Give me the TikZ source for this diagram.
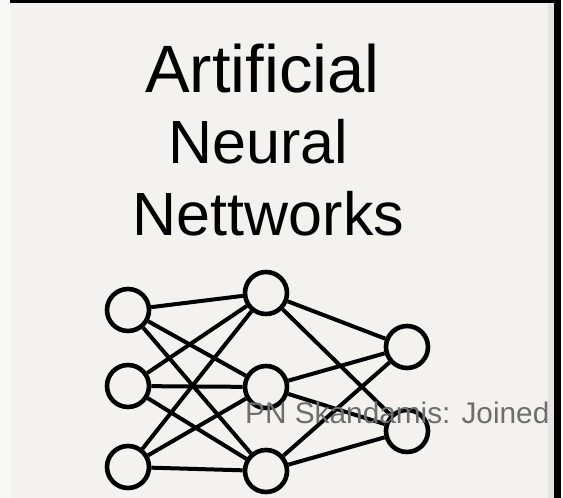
\documentclass[tikz,border=0pt]{standalone}
\usepackage{fontspec}
\setmainfont{Liberation Sans}
\definecolor{bgpaper}{HTML}{F4F2EE}
\definecolor{leftstrip}{HTML}{F8F8F6}
\definecolor{edgegray}{HTML}{E6E5E1}
\definecolor{wmgray}{HTML}{6E6E6E}
\begin{document}
\begin{tikzpicture}[x=1pt,y=-1pt,
  neuron/.style={draw=black,line width=4.6pt,circle,minimum size=42pt,inner sep=0pt,fill=bgpaper},
  link/.style={draw=black,line width=4pt},
  titletext/.style={anchor=base,inner sep=0pt,text=black}]
\useasboundingbox (0,0) rectangle (563,498);
\fill[leftstrip] (0,0) rectangle (563,498);
\fill[bgpaper] (10,3) rectangle (551,498);
\fill[edgegray] (548,3) rectangle (554,498);
% title
\node[titletext,font=\fontsize{67}{70}\selectfont] (t1) at (262.5,92) {Artificial};
\node[titletext,font=\fontsize{61}{70}\selectfont] (t2) at (258,163) {Neural};
\node[titletext,font=\fontsize{61}{70}\selectfont] (t3) at (268.5,235) {Nettworks};
% links
\node[neuron] (i1) at (128,310) {};
\node[neuron] (i2) at (128,386) {};
\node[neuron] (i3) at (128,467) {};
\node[neuron] (h1) at (266,293) {};
\node[neuron] (h2) at (266,387) {};
\node[neuron] (h3) at (266,471) {};
\node[neuron] (o1) at (407,347) {};
\node[neuron] (o2) at (407,431) {};
\foreach \a in {i1,i2,i3}{\foreach \b in {h1,h2,h3}{\draw[link] (\a) -- (\b);}}
\foreach \a in {h1,h2,h3}{\foreach \b in {o1,o2}{\draw[link] (\a) -- (\b);}}
% watermark
\begin{scope}
\clip (0,0) rectangle (553,498);
\node[anchor=base west,inner sep=0pt,text=wmgray,font=\fontsize{29.8}{32}\selectfont] (wm) at (245,423) {PN Skandamis: Joined};
\end{scope}
% border
\fill[black] (10,0) rectangle (556,3);
\fill[black] (554,0) rectangle (561,498);
\end{tikzpicture}
\end{document}
